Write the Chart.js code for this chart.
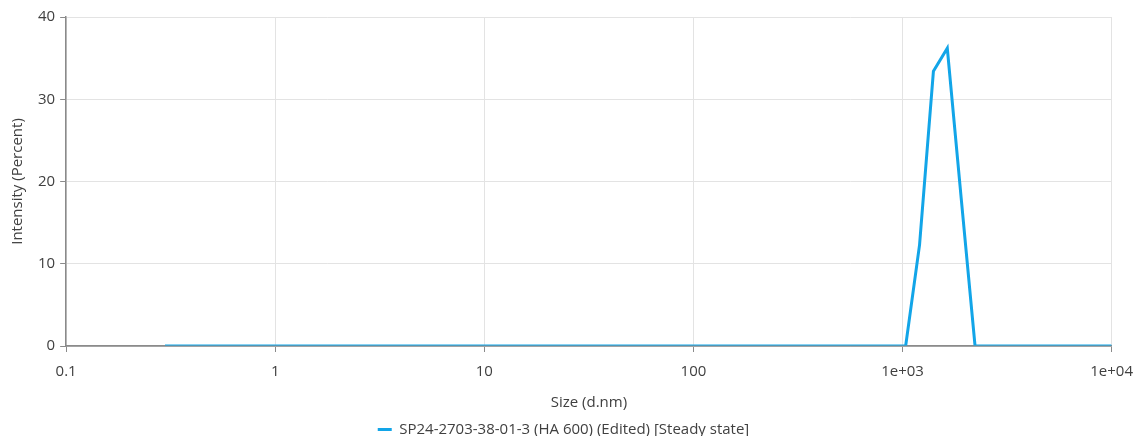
<!DOCTYPE html>
<html>
<head>
<meta charset="utf-8">
<script src="https://cdn.jsdelivr.net/npm/chart.js@4.4.1/dist/chart.umd.min.js"></script>
<style>
  html, body { margin: 0; padding: 0; background: #fff; }
  #wrap { width: 1144px; height: 436px; }
</style>
</head>
<body>
<div id="wrap"><canvas id="sizeChart" width="1144" height="436"></canvas></div>
<script>
// size classes (d.nm) and intensity (%)
const sizes = [0.297, 1035, 1206, 1405, 1637, 1907, 2222, 10000];
const intensity = [0, 0, 12.3, 33.4, 36.2, 18.0, 0, 0];
const xTicks = [0.1, 1, 10, 100, 1000, 10000];
const xTickLabels = ['0.1', '1', '10', '100', '1e+03', '1e+04'];
const yTicks = [0, 10, 20, 30, 40];
const seriesName = 'SP24-2703-38-01-3 (HA 600) (Edited) [Steady state]';

const fontFamily = '"Open Sans", "Noto Sans", sans-serif';
const textColor = '#404040';
const axisColor = '#8a8a8a';

// redraw the x axis line over the data, like the original
const axisOverlay = {
  id: 'axisOverlay',
  afterDatasetsDraw(chart) {
    const { ctx, chartArea } = chart;
    ctx.save();
    ctx.strokeStyle = 'rgba(140,140,140,0.6)';
    ctx.lineWidth = 1.5;
    ctx.beginPath();
    ctx.moveTo(chartArea.left, chartArea.bottom);
    ctx.lineTo(chartArea.right, chartArea.bottom);
    ctx.stroke();
    ctx.restore();
  },
};

const ctx = document.getElementById('sizeChart').getContext('2d');
new Chart(ctx, {
  type: 'line',
  data: {
    datasets: [
      {
        label: seriesName,
        data: sizes.map((s, i) => ({ x: s, y: intensity[i] })),
        borderColor: '#12a5e8',
        backgroundColor: '#12a5e8',
        borderWidth: 3,
        pointRadius: 0,
        pointStyle: 'line',
        tension: 0,
      },
    ],
  },
  options: {
    responsive: false,
    animation: false,
    layout: { padding: { top: 17, right: 26, left: 9, bottom: -11 } },
    plugins: {
      legend: {
        position: 'bottom',
        labels: {
          font: { family: fontFamily, size: 15 },
          color: textColor,
          usePointStyle: true,
          pointStyleWidth: 14,
          boxWidth: 14,
          boxHeight: 14,
          padding: 0,
        },
      },
      tooltip: { enabled: false },
    },
    scales: {
      x: {
        type: 'logarithmic',
        min: 0.1,
        max: 10000,
        afterBuildTicks: (axis) => {
          axis.ticks = xTicks.map((v) => ({ value: v }));
        },
        ticks: {
          font: { family: fontFamily, size: 15 },
          color: textColor,
          maxRotation: 0,
          autoSkip: false,
          padding: 11,
          callback: (v) => {
            const i = xTicks.indexOf(v);
            return i >= 0 ? xTickLabels[i] : '';
          },
        },
        grid: { color: '#e3e3e3', tickColor: axisColor, tickLength: 6 },
        border: { color: axisColor, width: 1.5 },
        title: {
          display: true,
          text: 'Size (d.nm)',
          font: { family: fontFamily, size: 15 },
          color: textColor,
          padding: { top: 2, bottom: 10 },
        },
      },
      y: {
        min: 0,
        max: 40,
        afterBuildTicks: (axis) => {
          axis.ticks = yTicks.map((v) => ({ value: v }));
        },
        ticks: {
          font: { family: fontFamily, size: 15 },
          color: textColor,
          padding: 5,
        },
        grid: { color: '#e3e3e3', tickColor: axisColor, tickLength: 6 },
        border: { color: axisColor, width: 1.5 },
        title: {
          display: true,
          text: 'Intensity (Percent)',
          font: { family: fontFamily, size: 15 },
          color: textColor,
          padding: { top: 0, bottom: 6 },
        },
      },
    },
  },
  plugins: [axisOverlay],
});
</script>
</body>
</html>
